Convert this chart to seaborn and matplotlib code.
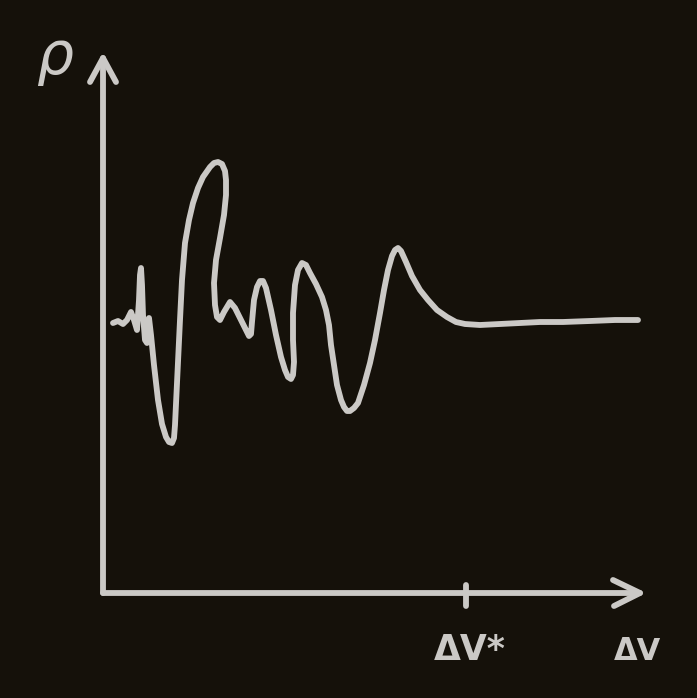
import matplotlib
matplotlib.use("Agg")
import matplotlib.pyplot as plt
import seaborn as sns

curve_x = [113, 118, 123, 127, 131, 134, 137, 139, 140, 141, 142, 143, 145, 147, 148, 149,
           151, 154, 158, 162, 166, 169, 172, 174, 175, 177, 180, 182, 185, 189, 193, 198,
           203, 210, 214, 218, 222, 225, 226, 226, 224, 220, 216, 214, 215, 217, 220, 224,
           230, 235, 240, 245, 249, 251, 252, 254, 257, 260, 263, 266, 271, 276, 281, 285,
           288, 291, 293, 294, 293, 293, 295, 298, 302, 306, 310, 316, 322, 326, 329, 331,
           334, 337, 341, 344, 347, 350, 354, 358, 364, 370, 375, 380, 384, 388, 392, 395,
           398, 401, 406, 412, 420, 428, 437, 447, 456, 465, 480, 500, 520, 540, 563, 590,
           615, 638]
curve_y = [323, 321, 324, 320, 312, 320, 330, 300, 275, 268, 285, 315, 340, 343, 325, 318,
           335, 365, 400, 424, 437, 442, 443, 438, 425, 383, 320, 280, 243, 220, 203, 188,
           177, 167, 163, 162, 164, 171, 180, 195, 215, 238, 260, 283, 305, 317, 320, 312,
           302, 308, 318, 328, 336, 334, 322, 300, 287, 281, 281, 288, 310, 335, 357, 370,
           377, 379, 375, 362, 340, 313, 285, 270, 263, 265, 273, 284, 297, 310, 325, 345,
           365, 385, 400, 407, 411, 411, 408, 403, 385, 363, 340, 313, 290, 270, 256, 250,
           248, 251, 262, 276, 290, 300, 310, 317, 322, 324, 325, 324, 323, 322, 322, 321,
           320, 320]

# axes drawn as open arrows
yaxis_x = [103, 103]
yaxis_y = [593, 58]
yhead_x = [90, 103, 116]
yhead_y = [82, 58, 82]
xaxis_x = [103, 640]
xaxis_y = [593, 593]
xhead_x = [613, 640, 614]
xhead_y = [580, 593, 606]
tick_x = [466, 466]
tick_y = [585, 606]

bg = "#15110a"
ink = "#cbc9c6"

sns.set_style("dark", {"axes.facecolor": bg, "figure.facecolor": bg})

fig = plt.figure(figsize=(6.97, 6.98), dpi=100)
ax = fig.add_axes([0, 0, 1, 1])

line_kw = dict(color=ink, linewidth=4.2, sort=False, estimator=None, ax=ax,
               solid_capstyle="round", solid_joinstyle="round")

for xs, ys in [(yaxis_x, yaxis_y), (yhead_x, yhead_y), (xaxis_x, xaxis_y),
               (xhead_x, xhead_y), (tick_x, tick_y), (curve_x, curve_y)]:
    sns.lineplot(x=xs, y=ys, **line_kw)

ax.text(55, 58, "ρ", color=ink, fontsize=42, fontstyle="italic", ha="center", va="center")
ax.text(470, 650, "ΔV*", color=ink, fontsize=25, fontweight="bold", ha="center", va="center")
ax.text(637, 652, "ΔV", color=ink, fontsize=22, fontweight="bold", ha="center", va="center")

ax.set_xlim(0, 697)
ax.set_ylim(698, 0)
ax.axis("off")

fig.savefig("out.png", dpi=100, facecolor=bg)
